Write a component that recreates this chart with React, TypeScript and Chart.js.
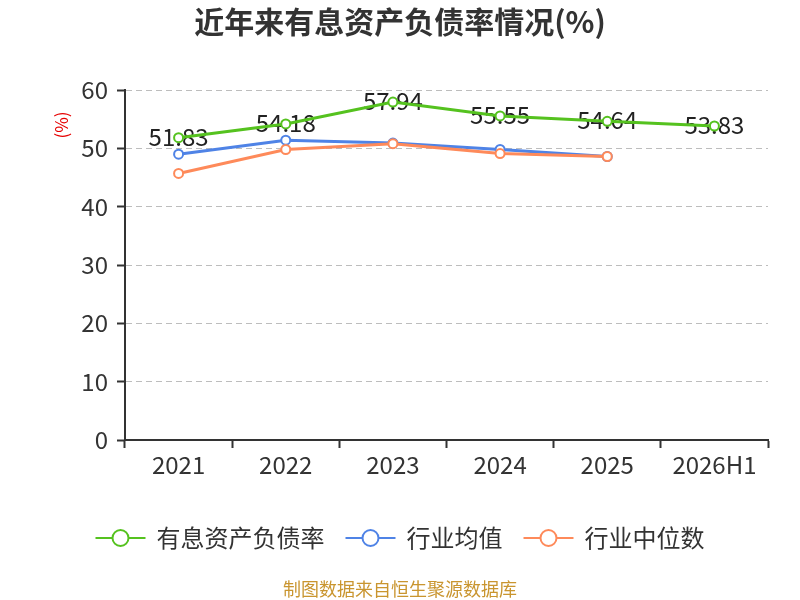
import { useEffect, useRef } from 'react';
import { Chart, registerables, type ChartConfiguration, type Plugin } from 'chart.js';

Chart.register(...registerables);

// 年份 + 数值
const years = ['2021', '2022', '2023', '2024', '2025', '2026H1'];
const debtRatio = [51.83, 54.18, 57.94, 55.55, 54.64, 53.83];
const industryAvg = [49.0, 51.4, 50.9, 49.8, 48.6, null];
const industryMedian = [45.7, 49.8, 50.8, 49.1, 48.6, null];

const seriesNames = ['有息资产负债率', '行业均值', '行业中位数'];
const seriesColors = ['#55c21f', '#4f83e6', '#fe8a5a'];

const FONT = '"Noto Sans CJK SC", "Noto Sans", sans-serif';

const valueLabels: Plugin = {
  id: 'valueLabels',
  beforeDatasetsDraw(chart) {
    const ctx = chart.ctx;
    const meta = chart.getDatasetMeta(0);
    ctx.save();
    ctx.font = `24px ${FONT}`;
    ctx.fillStyle = '#222';
    ctx.textAlign = 'center';
    ctx.textBaseline = 'middle';
    meta.data.forEach((pt, i) => {
      ctx.fillText(debtRatio[i].toFixed(2), pt.x, pt.y - 1);
    });
    ctx.restore();
  },
};

// title, y unit, legend and source line are drawn by hand so they sit centred on the page
const extras: Plugin = {
  id: 'extras',
  afterDraw(chart) {
    const ctx = chart.ctx;

    ctx.save();
    ctx.font = `bold 30px ${FONT}`;
    ctx.fillStyle = '#333';
    ctx.textAlign = 'center';
    ctx.textBaseline = 'middle';
    ctx.fillText('近年来有息资产负债率情况(%)', 400, 22);
    ctx.restore();

    ctx.save();
    ctx.translate(62, 125);
    ctx.rotate(-Math.PI / 2);
    ctx.font = `17px ${FONT}`;
    ctx.fillStyle = '#e60000';
    ctx.textAlign = 'center';
    ctx.textBaseline = 'middle';
    ctx.fillText('(%)', 0, 0);
    ctx.restore();

    // legend
    ctx.save();
    ctx.font = `24px ${FONT}`;
    ctx.textBaseline = 'middle';
    const lineLen = 50;
    const gapText = 11;
    const gapItem = 21;
    const widths = seriesNames.map((n) => ctx.measureText(n).width);
    const total =
      widths.reduce((a, w) => a + lineLen + gapText + w, 0) + gapItem * (seriesNames.length - 1);
    let x = 400 - total / 2;
    const y = 538;
    seriesNames.forEach((name, i) => {
      ctx.strokeStyle = seriesColors[i];
      ctx.lineWidth = 2;
      ctx.beginPath();
      ctx.moveTo(x, y);
      ctx.lineTo(x + lineLen, y);
      ctx.stroke();
      ctx.beginPath();
      ctx.arc(x + lineLen / 2, y, 8, 0, Math.PI * 2);
      ctx.fillStyle = '#fff';
      ctx.fill();
      ctx.stroke();
      ctx.fillStyle = '#333';
      ctx.textAlign = 'left';
      ctx.fillText(name, x + lineLen + gapText, y);
      x += lineLen + gapText + widths[i] + gapItem;
    });
    ctx.restore();

    ctx.save();
    ctx.font = `18px ${FONT}`;
    ctx.fillStyle = '#c9952f';
    ctx.textAlign = 'center';
    ctx.textBaseline = 'middle';
    ctx.fillText('制图数据来自恒生聚源数据库', 400, 589);
    ctx.restore();
  },
};

export default function App() {
  const canvasRef = useRef<HTMLCanvasElement>(null);
  const chartRef = useRef<Chart | null>(null);

  useEffect(() => {
    if (!canvasRef.current) return;
    if (chartRef.current) chartRef.current.destroy();

    const values = [debtRatio, industryAvg, industryMedian];
    const orders = [0, 2, 1];

    const config: ChartConfiguration = {
      type: 'line',
      data: {
        labels: years,
        datasets: values.map((d, i) => ({
          label: seriesNames[i],
          data: d as (number | null)[],
          borderColor: seriesColors[i],
          backgroundColor: seriesColors[i],
          borderWidth: 3,
          pointRadius: 4.5,
          pointBorderWidth: 2,
          pointBackgroundColor: '#fff',
          pointBorderColor: seriesColors[i],
          tension: 0,
          order: orders[i],
        })),
      },
      options: {
        responsive: true,
        maintainAspectRatio: false,
        animation: false,
        layout: { padding: { left: 0, right: 32, top: 90, bottom: 99 } },
        plugins: {
          title: { display: false },
          legend: { display: false },
          tooltip: { enabled: false },
        },
        scales: {
          x: {
            offset: true,
            afterFit: (scale) => {
              scale.height = 61;
            },
            grid: {
              offset: true,
              drawOnChartArea: false,
              drawTicks: true,
              tickLength: 8,
              tickColor: '#333',
              tickWidth: 2,
            },
            border: { display: true, color: '#333', width: 2 },
            ticks: {
              color: '#333',
              font: { family: FONT, size: 24 },
              padding: 2,
            },
          },
          y: {
            min: 0,
            max: 60,
            afterFit: (scale) => {
              scale.width = 125;
            },
            grid: {
              color: '#bdbdbd',
              lineWidth: 1,
              drawTicks: true,
              tickLength: 8,
              tickColor: '#333',
              tickWidth: 2,
            },
            border: { display: true, color: '#333', width: 2, dash: [6, 4] },
            ticks: {
              stepSize: 10,
              color: '#333',
              font: { family: FONT, size: 24 },
              padding: 9,
            },
          },
        },
      },
      plugins: [valueLabels, extras],
    };

    chartRef.current = new Chart(canvasRef.current, config);

    return () => {
      if (chartRef.current) {
        chartRef.current.destroy();
        chartRef.current = null;
      }
    };
  }, []);

  return (
    <div style={{ position: 'fixed', left: 0, top: 0, width: 800, height: 600, background: '#fff' }}>
      <canvas ref={canvasRef} />
    </div>
  );
}
